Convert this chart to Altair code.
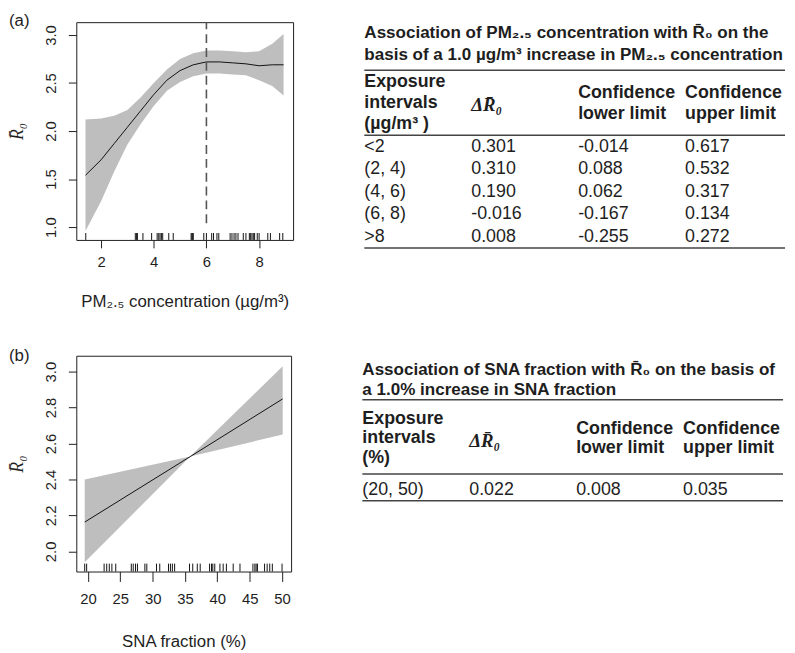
import altair as alt
import pandas as pd

FONT = "Liberation Sans"
SERIF = "Liberation Serif"
INK = "#1e1e1e"

# ---------------- Panel (a): R0 vs PM2.5 concentration ----------------
pm_x     = [1.41, 2.0, 2.5, 3.0, 3.5, 4.0, 4.5, 5.0, 5.5, 6.0, 6.5, 7.0, 7.5, 8.0, 8.5, 8.93]
pm_fit   = [1.54, 1.70, 1.87, 2.04, 2.21, 2.38, 2.53, 2.63, 2.69, 2.72, 2.72, 2.71, 2.70, 2.68, 2.69, 2.69]
pm_upper = [2.12, 2.13, 2.16, 2.22, 2.35, 2.50, 2.64, 2.75, 2.81, 2.84, 2.84, 2.83, 2.82, 2.83, 2.91, 3.01]
pm_lower = [0.96, 1.27, 1.58, 1.86, 2.07, 2.26, 2.42, 2.51, 2.57, 2.60, 2.60, 2.59, 2.58, 2.53, 2.47, 2.37]
pm_rug = [1.42, 3.30, 3.35, 3.38, 3.59, 3.92, 4.13, 4.19, 4.24, 4.29, 4.34, 4.57, 4.74,
          5.42, 5.45, 5.48, 5.50, 5.90, 6.00, 6.20, 6.27, 6.40, 6.47, 6.90, 6.97, 7.05,
          7.12, 7.20, 7.40, 7.50, 7.63, 7.68, 7.73, 7.78, 7.83, 7.93, 8.00, 8.33, 8.43,
          8.78, 8.90]
pm_xticks = [2, 4, 6, 8]
pm_yticks = [1.0, 1.5, 2.0, 2.5, 3.0]
pm_threshold = 6.0
pm_threshold_low = 1.04

# ---------------- Panel (b): R0 vs SNA fraction ----------------
sna_x     = [19.5, 35.8, 50.1]
sna_fit   = [2.163, 2.527, 2.848]
sna_upper = [2.40, 2.527, 3.03]
sna_lower = [1.94, 2.527, 2.65]
sna_rug = [19.5, 19.8, 22.5, 22.9, 23.3, 23.7, 24.3, 26.7, 27.0, 27.35, 27.65, 28.8,
           29.1, 30.6, 31.1, 32.45, 32.75, 33.05, 33.4, 35.7, 36.2, 36.9, 37.35, 38.8,
           39.1, 39.3, 39.6, 40.4, 40.9, 41.4, 42.45, 43.5, 45.5, 45.8, 46.0, 46.2,
           47.3, 47.7, 48.1, 48.5, 50.0]
sna_xticks = [20, 25, 30, 35, 40, 45, 50]
sna_yticks = [2.0, 2.2, 2.4, 2.6, 2.8, 3.0]

# ---------------- Tables ----------------
tab_a_title = ["Association of PM\u2082.\u2085 concentration with R\u0304\u2080 on the",
               "basis of a 1.0 \u00b5g/m\u00b3 increase in PM\u2082.\u2085 concentration"]
tab_a_intervals = ["<2", "(2, 4)", "(4, 6)", "(6, 8)", ">8"]
tab_a_delta = [0.301, 0.310, 0.190, -0.016, 0.008]
tab_a_lower = [-0.014, 0.088, 0.062, -0.167, -0.255]
tab_a_upper = [0.617, 0.532, 0.317, 0.134, 0.272]
tab_a_unit_label = "(\u00b5g/m\u00b3 )"

tab_b_title = ["Association of SNA fraction with R\u0304\u2080 on the basis of",
               "a 1.0% increase in SNA fraction"]
tab_b_intervals = ["(20, 50)"]
tab_b_delta = [0.022]
tab_b_lower = [0.008]
tab_b_upper = [0.035]
tab_b_unit_label = "(%)"

delta_header = "\u0394R\u0304\u2080"
conf_lower_header = ["Confidence", "lower limit"]
conf_upper_header = ["Confidence", "upper limit"]


def curve_panel(label, xs, fit, lo, hi, rug, xdom, ydom, xticks, yticks, xtitle,
                rug_len, w, h, xtick=8, xlabpad=7, xtitlepad=24, vline=None):
    curve = pd.DataFrame({"x": xs, "fit": fit, "lo": lo, "hi": hi})
    rugdf = pd.DataFrame({"x": rug})
    xscale = alt.Scale(domain=xdom, nice=False, zero=False)
    yscale = alt.Scale(domain=ydom, nice=False, zero=False)
    xaxis = alt.Axis(values=xticks, title=xtitle, grid=False, domain=False,
                     tickSize=xtick, tickColor=INK, labelPadding=xlabpad, labelFontSize=15,
                     labelColor=INK, labelFont=FONT, labelFlush=False, labelOverlap=False,
                     titlePadding=xtitlepad, titleFontSize=17, titleFont=FONT,
                     titleFontWeight="normal", titleColor=INK)
    yaxis = alt.Axis(values=yticks, format=".1f", title="R\u0304\u2080", grid=False,
                     domain=False, tickSize=8, tickColor=INK, labelAngle=270,
                     labelAlign="center", labelBaseline="bottom", labelPadding=10,
                     labelFontSize=15, labelColor=INK, labelFont=FONT, labelFlush=False,
                     labelOverlap=False, titlePadding=17, titleFontSize=18, titleFont=SERIF,
                     titleFontWeight="normal", titleFontStyle="italic", titleColor=INK)
    X = alt.X("x:Q", scale=xscale, axis=xaxis)
    band = alt.Chart(curve).mark_area(color="#bebebe", opacity=1).encode(
        x=X, y=alt.Y("lo:Q", scale=yscale, axis=yaxis), y2="hi:Q")
    line = alt.Chart(curve).mark_line(color="#111111", strokeWidth=1).encode(
        x=X, y=alt.Y("fit:Q", scale=yscale, axis=yaxis))
    rugs = alt.Chart(rugdf).mark_rule(color="#111111", strokeWidth=1).encode(
        x=X, y=alt.Y(datum=ydom[0], scale=yscale, axis=yaxis),
        y2=alt.Y2(datum=ydom[0] + rug_len))
    layers = [band, line, rugs]
    if vline is not None:
        vdf = pd.DataFrame({"x": [vline[0]]})
        layers.append(alt.Chart(vdf).mark_rule(color="#555555", strokeWidth=1.6,
                                               strokeDash=[9, 5]).encode(
            x=X, y=alt.Y(datum=vline[1], scale=yscale, axis=yaxis),
            y2=alt.Y2(datum=ydom[1])))
    return alt.layer(*layers).properties(
        width=w, height=h,
        title=alt.TitleParams(label, anchor="start", frame="bounds", fontSize=17,
                              fontWeight="normal", font=FONT, color=INK, offset=-9),
        view=alt.ViewBackground(stroke=INK, strokeWidth=1))


def table_panel(title_lines, unit_label, intervals, delta, lower, upper, lay, w, h, unit):
    col_step = 108.0
    xmax = w / col_step
    ymax = h / unit
    xs = alt.Scale(domain=[0, xmax], nice=False, zero=False)
    ys = alt.Scale(domain=[0, ymax], reverse=True, nice=False, zero=False)

    titles = pd.DataFrame({"col": [0] * len(title_lines),
                           "pos": [lay["title0"] + i * lay["title_step"]
                                   for i in range(len(title_lines))],
                           "text": title_lines})
    headers = [["Exposure", "intervals", unit_label], conf_lower_header, conf_upper_header]
    head_cols = [0, 2, 3]
    hrows = []
    for c, lines in zip(head_cols, headers):
        n = len(lines)
        for j, t in enumerate(lines):
            hrows.append({"col": c, "pos": lay["head_mid"] + (j - (n - 1) / 2) * lay["head_step"],
                          "text": t})
    heads = pd.DataFrame(hrows)
    math = pd.DataFrame({"col": [1], "pos": [lay["head_mid"] + 0.1], "text": [delta_header]})

    brows = []
    cols = [intervals, [f"{v:.3f}" for v in delta], [f"{v:.3f}" for v in lower],
            [f"{v:.3f}" for v in upper]]
    for r in range(len(intervals)):
        for c in range(4):
            brows.append({"col": c, "pos": lay["row0"] + r * lay["row_step"], "text": cols[c][r]})
    body = pd.DataFrame(brows)
    bottom = lay["row0"] + (len(intervals) - 1) * lay["row_step"] + lay["bottom_gap"]
    rules = pd.DataFrame({"x0": [0.0] * 3, "x1": [xmax] * 3,
                          "pos": [lay["top_rule"], lay["head_rule"], bottom]})

    def enc():
        return dict(x=alt.X("col:Q", scale=xs, axis=None),
                    y=alt.Y("pos:Q", scale=ys, axis=None),
                    text="text:N")

    t_title = alt.Chart(titles).mark_text(align="left", baseline="middle", font=FONT,
                                          fontSize=17.2, fontWeight="bold", color=INK).encode(**enc())
    t_head = alt.Chart(heads).mark_text(align="left", baseline="middle", font=FONT,
                                        fontSize=18, fontWeight="bold", color=INK).encode(**enc())
    t_math = alt.Chart(math).mark_text(align="left", baseline="middle", font=SERIF,
                                       fontSize=19, fontWeight="bold", fontStyle="italic",
                                       color=INK).encode(**enc())
    t_body = alt.Chart(body).mark_text(align="left", baseline="middle", font=FONT,
                                       fontSize=18, color=INK).encode(**enc())
    r_lines = alt.Chart(rules).mark_rule(color="#444444", strokeWidth=1.5).encode(
        x=alt.X("x0:Q", scale=xs, axis=None), x2="x1:Q",
        y=alt.Y("pos:Q", scale=ys, axis=None))
    return alt.layer(r_lines, t_title, t_head, t_math, t_body).properties(
        width=w, height=h, view=alt.ViewBackground(stroke="transparent"))


panel_a = curve_panel("(a)", pm_x, pm_fit, pm_lower, pm_upper, pm_rug,
                      [1.06, 9.29], [0.866, 3.134], pm_xticks, pm_yticks,
                      "PM\u2082.\u2085 concentration (\u00b5g/m\u00b3)", 0.072, 219, 220,
                      vline=(pm_threshold, pm_threshold_low))
panel_b = curve_panel("(b)", sna_x, sna_fit, sna_lower, sna_upper, sna_rug,
                      [18.2, 51.4], [1.888, 3.088], sna_xticks, sna_yticks,
                      "SNA fraction (%)", 0.044, 217, 218,
                      xtick=10, xlabpad=10, xtitlepad=28)

lay_a = dict(title0=0.49, title_step=0.98, top_rule=2.16, head_mid=3.64, head_step=0.95,
             head_rule=5.08, row0=5.6, row_step=1.01, bottom_gap=0.5)
lay_b = dict(title0=0.72, title_step=0.95, top_rule=2.17, head_mid=4.08, head_step=0.98,
             head_rule=5.83, row0=6.62, row_step=1.0, bottom_gap=0.53)

table_a = table_panel(tab_a_title, tab_a_unit_label, tab_a_intervals, tab_a_delta,
                      tab_a_lower, tab_a_upper, lay_a, 425, 240, 22.5)
table_b = table_panel(tab_b_title, tab_b_unit_label, tab_b_intervals, tab_b_delta,
                      tab_b_lower, tab_b_upper, lay_b, 425, 160, 20.5)

row_a = alt.hconcat(panel_a, table_a, spacing=69)
row_b = alt.hconcat(panel_b, table_b, spacing=69)

chart = alt.vconcat(row_a, row_b, spacing=36).properties(
    padding=0, background="white"
).configure_view(stroke="transparent").configure(font=FONT)

chart.save("out.html", embed_options={"renderer": "svg", "actions": False})
